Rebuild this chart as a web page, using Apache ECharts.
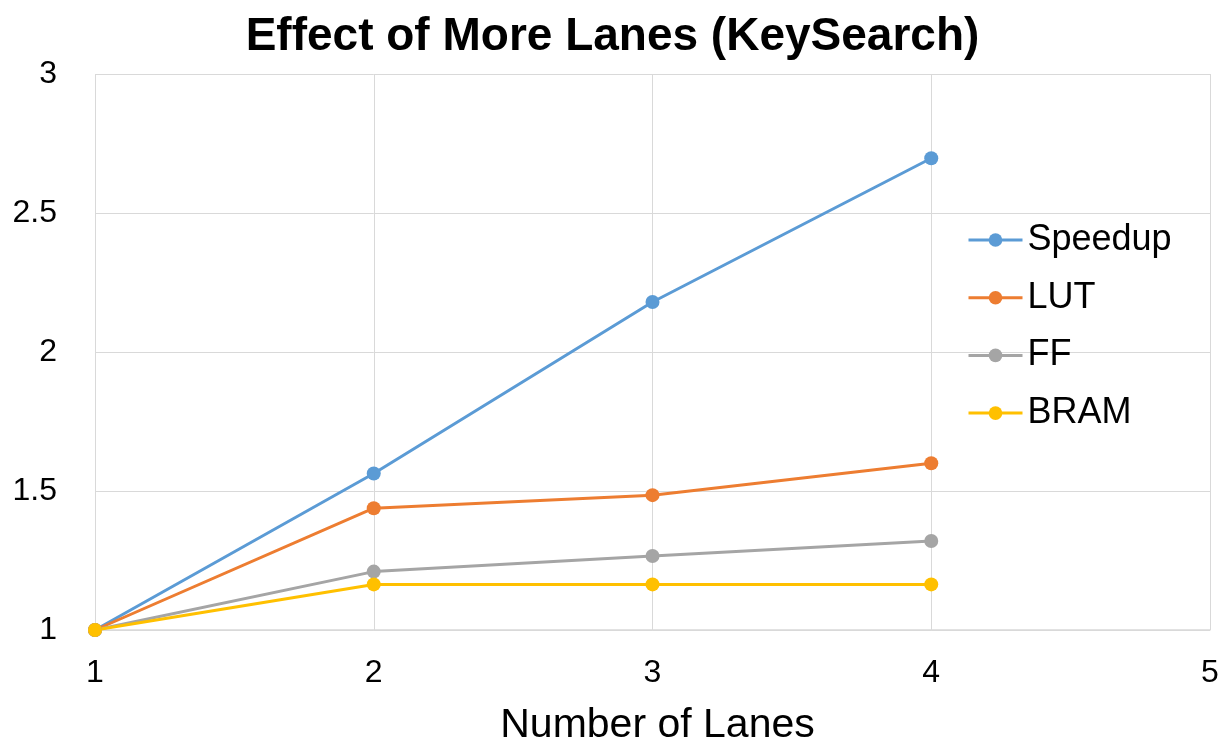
<!DOCTYPE html>
<html><head><meta charset="utf-8">
<script src="https://cdn.jsdelivr.net/npm/echarts@6/dist/echarts.min.js"></script>
<style>html,body{margin:0;padding:0;background:#fff;overflow:hidden}#c{width:1225px;height:751px}</style>
</head><body><div id="c"></div>
<script>
const lanes = [1, 2, 3, 4];
const speedup = [1, 1.563, 2.18, 2.697];
const lut = [1, 1.438, 1.485, 1.60];
const ff = [1, 1.21, 1.266, 1.32];
const bram = [1, 1.164, 1.164, 1.164];
const seriesNames = ['Speedup', 'LUT', 'FF', 'BRAM'];
const colors = ['#5B9BD5', '#ED7D31', '#A5A5A5', '#FFC000'];
const allData = [speedup, lut, ff, bram];
const font = 'Liberation Sans, Arial, sans-serif';
const chart = echarts.init(document.getElementById('c'));
chart.setOption({
  animation: false,
  backgroundColor: '#fff',
  title: {text: 'Effect of More Lanes (KeySearch)', left: 'center', top: 9,
    textStyle: {fontFamily: font, fontWeight: 'bold', fontSize: 46, color: '#000'}},
  legend: {orient: 'vertical', left: 962, top: 217, itemGap: 21.7, itemWidth: 54, itemHeight: 17,
    lineStyle: {width: 3},
    textStyle: {fontFamily: font, fontSize: 36, color: '#000'},
    data: seriesNames},
  grid: {left: 95, width: 1115, top: 74, height: 563, containLabel: false},
  xAxis: {type: 'value', min: 1, max: 5, interval: 1,
    name: 'Number of Lanes', nameLocation: 'middle', nameGap: 75,
    nameTextStyle: {fontFamily: font, fontSize: 41, color: '#000', padding: [0, 0, 0, 10]},
    axisLine: {show: true, lineStyle: {color: '#d9d9d9', width: 1.5}},
    axisTick: {show: false},
    axisLabel: {fontFamily: font, fontSize: 32, color: '#000', margin: 27},
    splitLine: {show: true, lineStyle: {color: '#d9d9d9', width: 1}}},
  yAxis: {type: 'value', min: 1, max: 3, interval: 0.5,
    axisLine: {show: false}, axisTick: {show: false},
    axisLabel: {fontFamily: font, fontSize: 32, color: '#000', margin: 38},
    splitLine: {show: true, lineStyle: {color: '#d9d9d9', width: 1}}},
  series: seriesNames.map((n, i) => ({
    name: n, type: 'line', symbol: 'circle', symbolSize: 14,
    data: lanes.map((x, j) => [x, allData[i][j]]),
    lineStyle: {color: colors[i], width: 3},
    itemStyle: {color: colors[i]}
  }))
});
</script></body></html>
